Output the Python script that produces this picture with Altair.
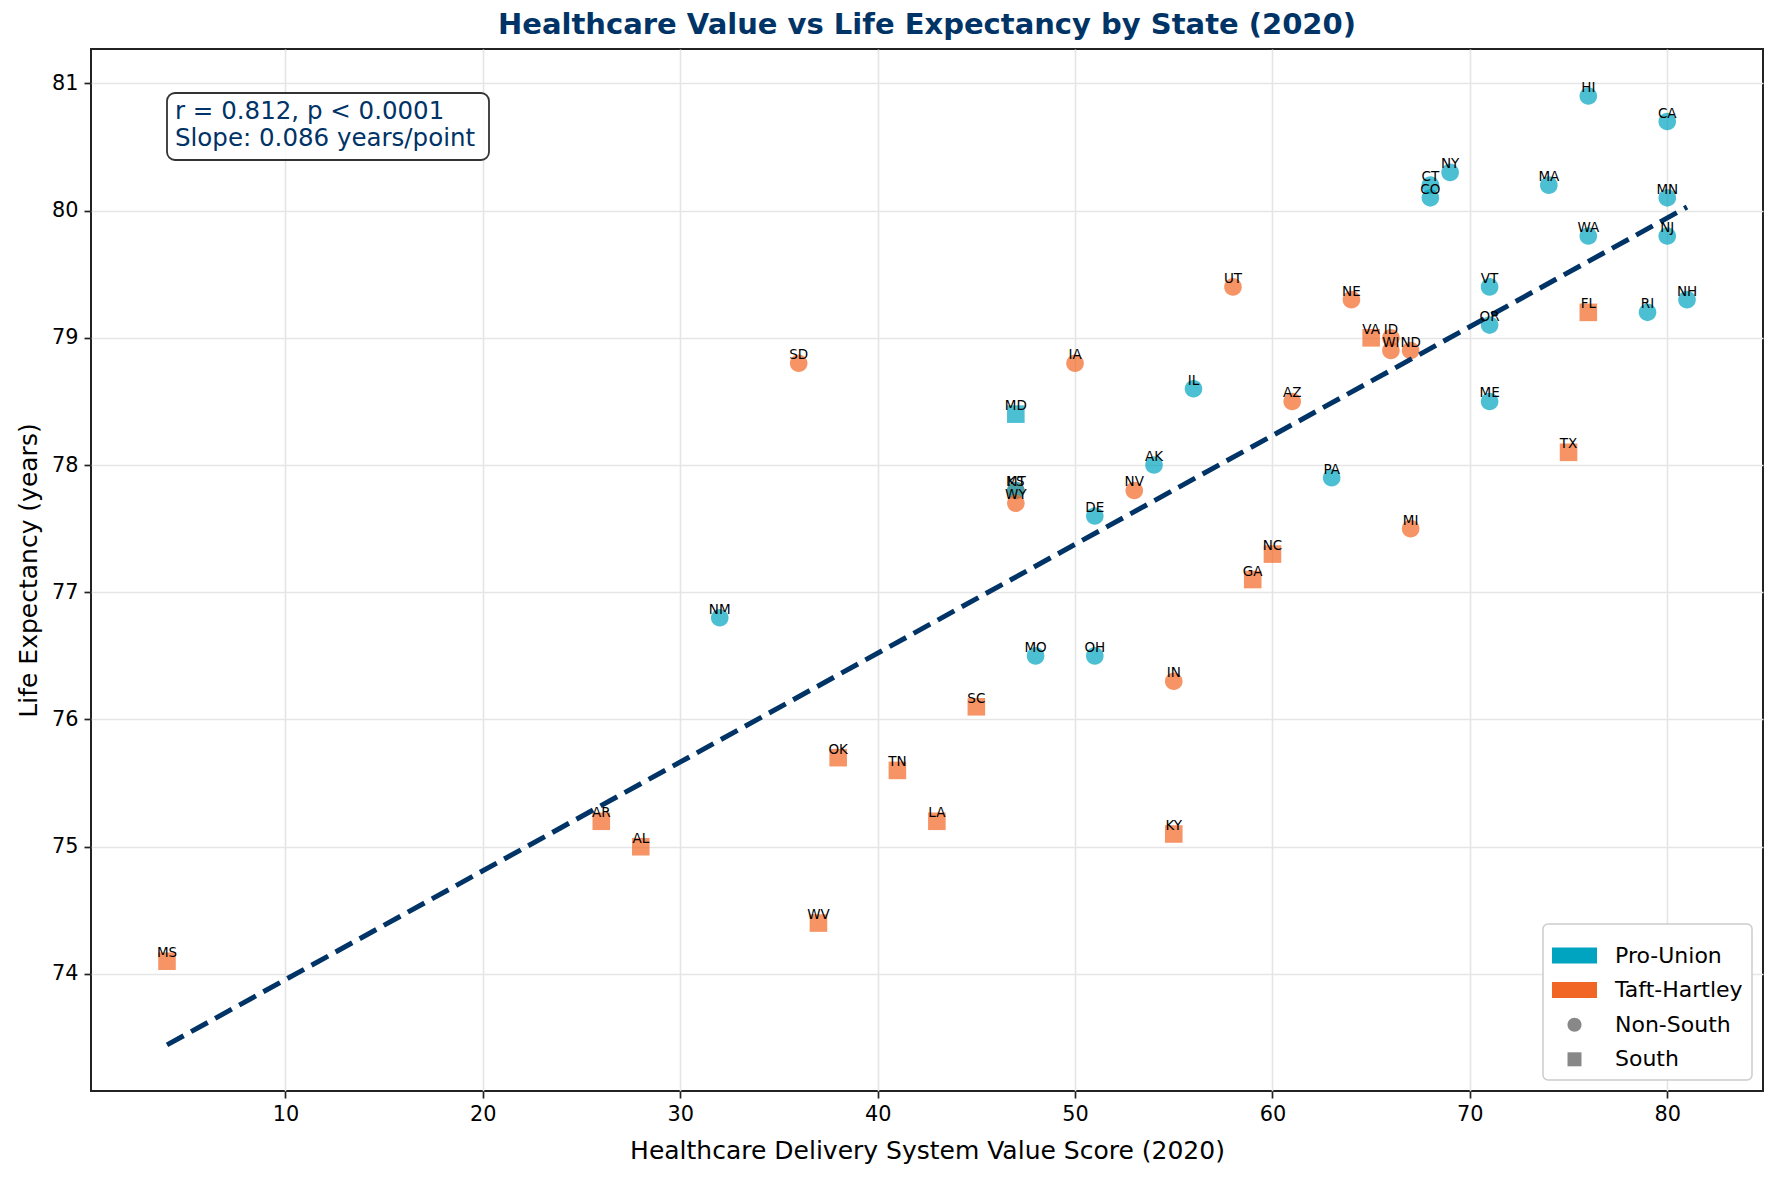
import altair as alt
import pandas as pd

# ---- data (alphabetical by state name) ----
states = ["AL", "AK", "AZ", "AR", "CA", "CO", "CT", "DE", "FL", "GA",
          "HI", "ID", "IL", "IN", "IA", "KS", "KY", "LA", "ME", "MD",
          "MA", "MI", "MN", "MS", "MO", "MT", "NE", "NV", "NH", "NJ",
          "NM", "NY", "NC", "ND", "OH", "OK", "OR", "PA", "RI", "SC",
          "SD", "TN", "TX", "UT", "VT", "VA", "WA", "WV", "WI", "WY"]
value_score = [28, 54, 61, 26, 80, 68, 68, 51, 76, 59,
               76, 66, 56, 55, 50, 47, 55, 43, 71, 47,
               74, 67, 80, 4, 48, 47, 64, 53, 81, 80,
               32, 69, 60, 67, 51, 38, 71, 63, 79, 45,
               36, 41, 75, 58, 71, 65, 76, 37, 66, 47]
life_exp = [75.0, 78.0, 78.5, 75.2, 80.7, 80.1, 80.2, 77.6, 79.2, 77.1,
            80.9, 79.0, 78.6, 76.3, 78.8, 77.8, 75.1, 75.2, 78.5, 78.4,
            80.2, 77.5, 80.1, 74.1, 76.5, 77.8, 79.3, 77.8, 79.3, 79.8,
            76.8, 80.3, 77.3, 78.9, 76.5, 75.7, 79.1, 77.9, 79.2, 76.1,
            78.8, 75.6, 78.1, 79.4, 79.4, 79.0, 79.8, 74.4, 78.9, 77.7]
P, T = "Pro-Union", "Taft-Hartley"
union_status = [T, P, T, T, P, P, P, P, T, T,
                P, T, P, T, T, T, T, T, P, P,
                P, T, P, T, P, P, T, T, P, P,
                P, P, T, T, P, T, P, P, P, T,
                T, T, T, T, P, T, P, T, T, T]
N, S = "Non-South", "South"
region = [S, N, N, S, N, N, N, N, S, S,
          N, N, N, N, N, N, S, S, N, S,
          N, N, N, S, N, N, N, N, N, N,
          N, N, S, N, N, S, N, N, N, S,
          N, S, S, N, N, S, N, S, N, N]

legend_items = ["Pro-Union", "Taft-Hartley", "Non-South", "South"]
legend_colors = ["#00A4C0", "#F26625", "#888888", "#888888"]
rect_path = "M-1,-0.356H1V0.356H-1Z"
circle_path = "M-0.311,0A0.311,0.311,0,1,1,0.311,0A0.311,0.311,0,1,1,-0.311,0Z"
square_path = "M-0.311,-0.311H0.311V0.311H-0.311Z"
legend_shapes = [rect_path, rect_path, circle_path, square_path]

annotation_lines = "r = 0.812, p < 0.0001\nSlope: 0.086 years/point"

df = pd.DataFrame({"state": states, "score": value_score, "life": life_exp,
                   "union": union_status, "region": region})
ann_df = pd.DataFrame({"t": [annotation_lines]})

W, H = 1672, 1042
FONT = "DejaVu Sans"
DARK = "#003366"

xscale = alt.Scale(domain=[0.15, 84.85], nice=False, zero=False)
yscale = alt.Scale(domain=[73.08, 81.27], nice=False, zero=False)
color_scale = alt.Scale(domain=legend_items, range=legend_colors)
shape_scale = alt.Scale(domain=legend_items, range=legend_shapes)

x_enc = alt.X("score:Q", scale=xscale,
              axis=alt.Axis(values=list(range(10, 90, 10)),
                            title="Healthcare Delivery System Value Score (2020)"))
y_enc = alt.Y("life:Q", scale=yscale,
              axis=alt.Axis(values=list(range(74, 82)),
                            title="Life Expectancy (years)"))

base = alt.Chart(df)

points = base.mark_point(filled=True, opacity=1, fillOpacity=0.7, size=3200,
                         strokeWidth=0).encode(
    x=x_enc, y=y_enc,
    color=alt.Color("union:N", scale=color_scale, legend=alt.Legend(title=None)),
    shape=alt.Shape("region:N", scale=shape_scale, legend=alt.Legend(title=None)),
)

trend = base.transform_regression("score", "life").mark_line(
    color=DARK, strokeWidth=5, strokeDash=[19, 8.5]
).encode(x=x_enc, y=y_enc)

labels = base.mark_text(fontSize=13.5, font=FONT, color="black",
                        baseline="alphabetic", dy=-4).encode(
    x=x_enc, y=y_enc, text="state:N")

box = alt.Chart(ann_df).mark_rect(
    fill="white", fillOpacity=0.8, stroke="#333333", strokeWidth=1.8, cornerRadius=8
).encode(x=alt.value(76), x2=alt.value(398), y=alt.value(44), y2=alt.value(111))

ann = alt.Chart(ann_df).mark_text(
    align="left", baseline="top", fontSize=24.5, lineHeight=27, font=FONT,
    color=DARK, lineBreak="\n"
).encode(x=alt.value(84), y=alt.value(51), text="t:N")

chart = alt.layer(points, trend, labels, box, ann).properties(
    width=W, height=H,
    title="Healthcare Value vs Life Expectancy by State (2020)",
    autosize=alt.AutoSizeParams(type="none"),
    padding={"left": 91, "top": 49, "right": 14, "bottom": 86},
).configure(
    font=FONT,
).configure_view(
    stroke="#222222", strokeWidth=2,
).configure_axis(
    domain=False, grid=True, gridColor="#e5e5e5", gridWidth=1.6,
    tickColor="#222222", tickSize=7, tickWidth=1.7,
    labelFont=FONT, labelFontSize=20.8, labelColor="black", labelPadding=6,
    titleFont=FONT, titleFontSize=25, titleFontWeight="normal", titleColor="black",
).configure_axisX(
    titlePadding=15,
).configure_axisY(
    titlePadding=10,
).configure_title(
    font=FONT, fontSize=29, fontWeight="bold", color=DARK, anchor="middle", offset=9,
).configure_legend(
    orient="bottom-right", offset=11, padding=9, rowPadding=0.6,
    strokeColor="#cccccc", fillColor="white", cornerRadius=5, strokeWidth=1.5,
    symbolSize=2025, symbolStrokeWidth=0, symbolOpacity=1, symbolFillColor="#888888",
    labelFont=FONT, labelFontSize=22, labelColor="black", labelOffset=18, labelLimit=400,
)

chart.save("out.html", embed_options={"renderer": "svg", "actions": False})
